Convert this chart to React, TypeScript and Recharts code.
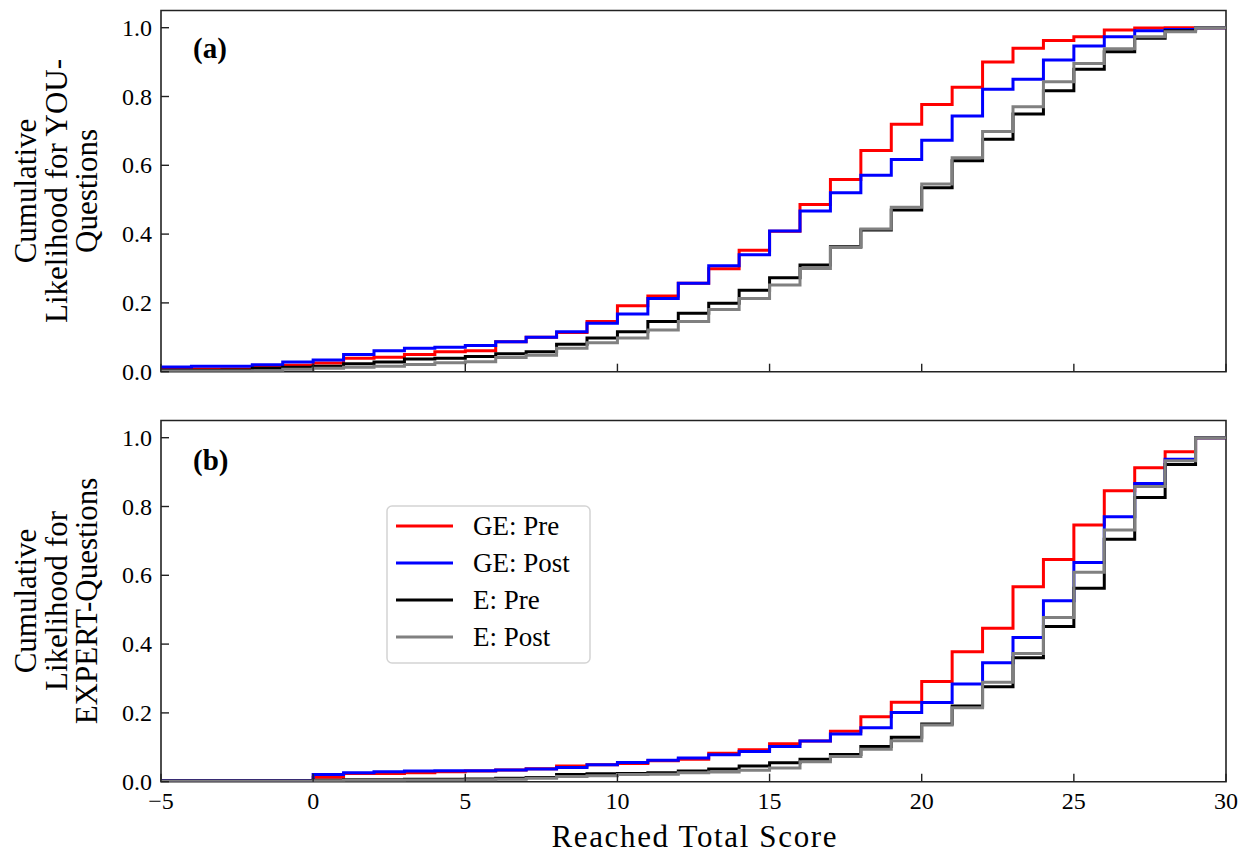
import React from 'react';
import { LineChart, Line, XAxis, YAxis, ReferenceArea } from 'recharts';

const FONT = '"Liberation Serif", "Times New Roman", serif';

// x positions (reached total score), step "post"
const scores = [-5, -4, -3, -2, -1, 0, 1, 2, 3, 4, 5, 6, 7, 8, 9, 10, 11, 12, 13, 14, 15, 16, 17, 18, 19, 20, 21, 22, 23, 24, 25, 26, 27, 28, 29, 30];
const xTicks = [-5, 0, 5, 10, 15, 20, 25, 30];
const yTicks = [0, 0.2, 0.4, 0.6, 0.8, 1.0];

// Panel (a): YOU-Questions
const youGEPre = [0.008, 0.008, 0.008, 0.015, 0.019, 0.025, 0.039, 0.042, 0.050, 0.058, 0.061, 0.087, 0.100, 0.114, 0.146, 0.192, 0.220, 0.257, 0.299, 0.353, 0.408, 0.486, 0.559, 0.643, 0.719, 0.777, 0.827, 0.900, 0.940, 0.963, 0.974, 0.993, 0.999, 1.0, 1.0, 1.0];
const youGEPost = [0.014, 0.016, 0.016, 0.020, 0.028, 0.034, 0.050, 0.061, 0.068, 0.071, 0.076, 0.087, 0.100, 0.116, 0.141, 0.168, 0.213, 0.257, 0.308, 0.340, 0.409, 0.467, 0.520, 0.571, 0.617, 0.673, 0.743, 0.821, 0.850, 0.906, 0.947, 0.974, 0.991, 0.995, 1.0, 1.0];
const youEPre = [0.004, 0.004, 0.005, 0.010, 0.013, 0.016, 0.023, 0.028, 0.037, 0.039, 0.044, 0.052, 0.058, 0.080, 0.098, 0.116, 0.146, 0.170, 0.199, 0.237, 0.273, 0.310, 0.363, 0.412, 0.470, 0.535, 0.613, 0.676, 0.749, 0.817, 0.879, 0.930, 0.969, 0.991, 1.0, 1.0];
const youEPost = [0.002, 0.002, 0.002, 0.003, 0.007, 0.010, 0.013, 0.016, 0.021, 0.026, 0.029, 0.041, 0.048, 0.068, 0.084, 0.098, 0.121, 0.146, 0.181, 0.213, 0.252, 0.300, 0.361, 0.415, 0.478, 0.546, 0.622, 0.698, 0.770, 0.843, 0.896, 0.939, 0.974, 0.988, 1.0, 1.0];

// Panel (b): EXPERT-Questions
const expGEPre = [0.002, 0.002, 0.002, 0.002, 0.002, 0.013, 0.024, 0.024, 0.026, 0.029, 0.031, 0.034, 0.038, 0.046, 0.049, 0.053, 0.061, 0.065, 0.083, 0.093, 0.110, 0.118, 0.147, 0.189, 0.231, 0.291, 0.378, 0.446, 0.567, 0.646, 0.746, 0.846, 0.913, 0.959, 1.0, 1.0];
const expGEPost = [0.003, 0.003, 0.003, 0.003, 0.003, 0.021, 0.026, 0.029, 0.031, 0.032, 0.032, 0.034, 0.037, 0.041, 0.049, 0.056, 0.062, 0.069, 0.078, 0.088, 0.102, 0.118, 0.139, 0.157, 0.201, 0.230, 0.284, 0.346, 0.419, 0.526, 0.637, 0.770, 0.867, 0.937, 1.0, 1.0];
const expEPre = [0.002, 0.002, 0.002, 0.002, 0.002, 0.004, 0.006, 0.006, 0.007, 0.007, 0.008, 0.010, 0.012, 0.021, 0.023, 0.024, 0.026, 0.031, 0.037, 0.046, 0.055, 0.065, 0.079, 0.102, 0.129, 0.168, 0.220, 0.276, 0.360, 0.451, 0.562, 0.705, 0.826, 0.922, 1.0, 1.0];
const expEPost = [0.001, 0.001, 0.001, 0.001, 0.001, 0.003, 0.004, 0.004, 0.005, 0.005, 0.006, 0.007, 0.010, 0.015, 0.017, 0.021, 0.022, 0.026, 0.028, 0.033, 0.040, 0.058, 0.073, 0.094, 0.119, 0.165, 0.215, 0.289, 0.373, 0.477, 0.609, 0.732, 0.858, 0.933, 1.0, 1.0];

const seriesKeys = ['gePre', 'gePost', 'ePre', 'ePost'];
const seriesNames = ['GE: Pre', 'GE: Post', 'E: Pre', 'E: Post'];
const seriesColors = ['#ff0000', '#0000ff', '#000000', '#808080'];

const yLabelA = ['Cumulative', 'Likelihood for YOU-', 'Questions'];
const yLabelB = ['Cumulative', 'Likelihood for', 'EXPERT-Questions'];
const xLabel = 'Reached Total Score';

function buildRows(a: number[], b: number[], c: number[], d: number[]) {
  return scores.map((s, i) => ({ score: s, gePre: a[i], gePost: b[i], ePre: c[i], ePost: d[i] }));
}

const rowsA = buildRows(youGEPre, youGEPost, youEPre, youEPost);
const rowsB = buildRows(expGEPre, expGEPost, expEPre, expEPost);

const AXIS_COLOR = '#222';

function fmtX(v: number) {
  return v < 0 ? '\u2212' + Math.abs(v) : String(v);
}

function makeXTick(showLabel: boolean) {
  return (props: any) => {
    const { x, y, payload } = props;
    return (
      <g>
        <line x1={x} x2={x} y1={y} y2={y - 8} stroke={AXIS_COLOR} strokeWidth={1.4} />
        {showLabel && (
          <text x={x} y={y + 27} textAnchor="middle" fontFamily={FONT} fontSize={24} fill="#000">
            {fmtX(payload.value)}
          </text>
        )}
      </g>
    );
  };
}

const YTick = (props: any) => {
  const { x, y, payload } = props;
  return (
    <g>
      <line x1={x} x2={x + 8} y1={y} y2={y} stroke={AXIS_COLOR} strokeWidth={1.4} />
      <text x={x - 9} y={y + 8} textAnchor="end" fontFamily={FONT} fontSize={24} fill="#000">
        {Number(payload.value).toFixed(1)}
      </text>
    </g>
  );
};

function Panel({ rows, showXLabels, margin, xHeight, height }: any) {
  return (
    <LineChart width={1253} height={height} data={rows} margin={margin}>
      <XAxis
        dataKey="score"
        type="number"
        domain={[-5, 30]}
        ticks={xTicks}
        interval={0}
        allowDataOverflow
        axisLine={false}
        tickLine={false}
        tickSize={0}
        tickMargin={0}
        height={xHeight}
        tick={makeXTick(showXLabels)}
      />
      <YAxis
        type="number"
        domain={[0, 1.05]}
        ticks={yTicks}
        interval={0}
        allowDataOverflow
        axisLine={false}
        tickLine={false}
        tickSize={0}
        tickMargin={0}
        width={60}
        tick={YTick}
      />
      {seriesKeys.map((k, i) => (
        <Line
          key={k}
          type="stepAfter"
          dataKey={k}
          stroke={seriesColors[i]}
          strokeWidth={3}
          dot={false}
          activeDot={false}
          isAnimationActive={false}
          strokeLinejoin="miter"
          strokeLinecap="butt"
        />
      ))}
      <ReferenceArea
        x1={-5}
        x2={30}
        y1={0}
        y2={1.05}
        fill="none"
        fillOpacity={0}
        stroke={AXIS_COLOR}
        strokeWidth={1.6}
        ifOverflow="visible"
      />
    </LineChart>
  );
}

function RotatedLabel({ lines, cy }: { lines: string[]; cy: number }) {
  const xs = [36, 66.5, 96.5];
  return (
    <g>
      {lines.map((t, i) => (
        <text
          key={i}
          x={xs[i]}
          y={cy}
          transform={`rotate(-90, ${xs[i]}, ${cy})`}
          textAnchor="middle"
          fontFamily={FONT}
          fontSize={31}
          fill="#000"
        >
          {t}
        </text>
      ))}
    </g>
  );
}

export default function App() {
  const legendRowsY = [526, 563, 600, 637];
  return (
    <div style={{ position: 'absolute', left: 0, top: 0, width: 1253, height: 853, background: '#fff' }}>
      <div style={{ position: 'absolute', left: 0, top: 0 }}>
        <Panel rows={rowsA} showXLabels={false} height={400} xHeight={10} margin={{ top: 10.5, right: 27, left: 101, bottom: 18.3 }} />
      </div>
      <div style={{ position: 'absolute', left: 0, top: 400 }}>
        <Panel rows={rowsB} showXLabels={true} height={453} xHeight={40} margin={{ top: 20.5, right: 27, left: 101, bottom: 31.3 }} />
      </div>
      <svg width={1253} height={853} style={{ position: 'absolute', left: 0, top: 0, pointerEvents: 'none' }}>
        <RotatedLabel lines={yLabelA} cy={191} />
        <RotatedLabel lines={yLabelB} cy={601} />
        <text x={694} y={847} textAnchor="middle" fontFamily={FONT} fontSize={31} fill="#000" textLength={285} lengthAdjust="spacing">
          {xLabel}
        </text>
        <text x={193} y={58} fontFamily={FONT} fontSize={29} fontWeight="bold" fill="#000">(a)</text>
        <text x={193} y={470} fontFamily={FONT} fontSize={29} fontWeight="bold" fill="#000">(b)</text>
        <rect x={387} y={506} width={203} height={157} rx={5} ry={5} fill="#fff" fillOpacity={0.8} stroke="#d4d4d4" strokeWidth={1.5} />
        {seriesNames.map((n, i) => (
          <g key={n}>
            <line x1={396} x2={453} y1={legendRowsY[i]} y2={legendRowsY[i]} stroke={seriesColors[i]} strokeWidth={3} />
            <text x={473} y={legendRowsY[i] + 9} fontFamily={FONT} fontSize={27} fill="#000">{n}</text>
          </g>
        ))}
      </svg>
    </div>
  );
}
